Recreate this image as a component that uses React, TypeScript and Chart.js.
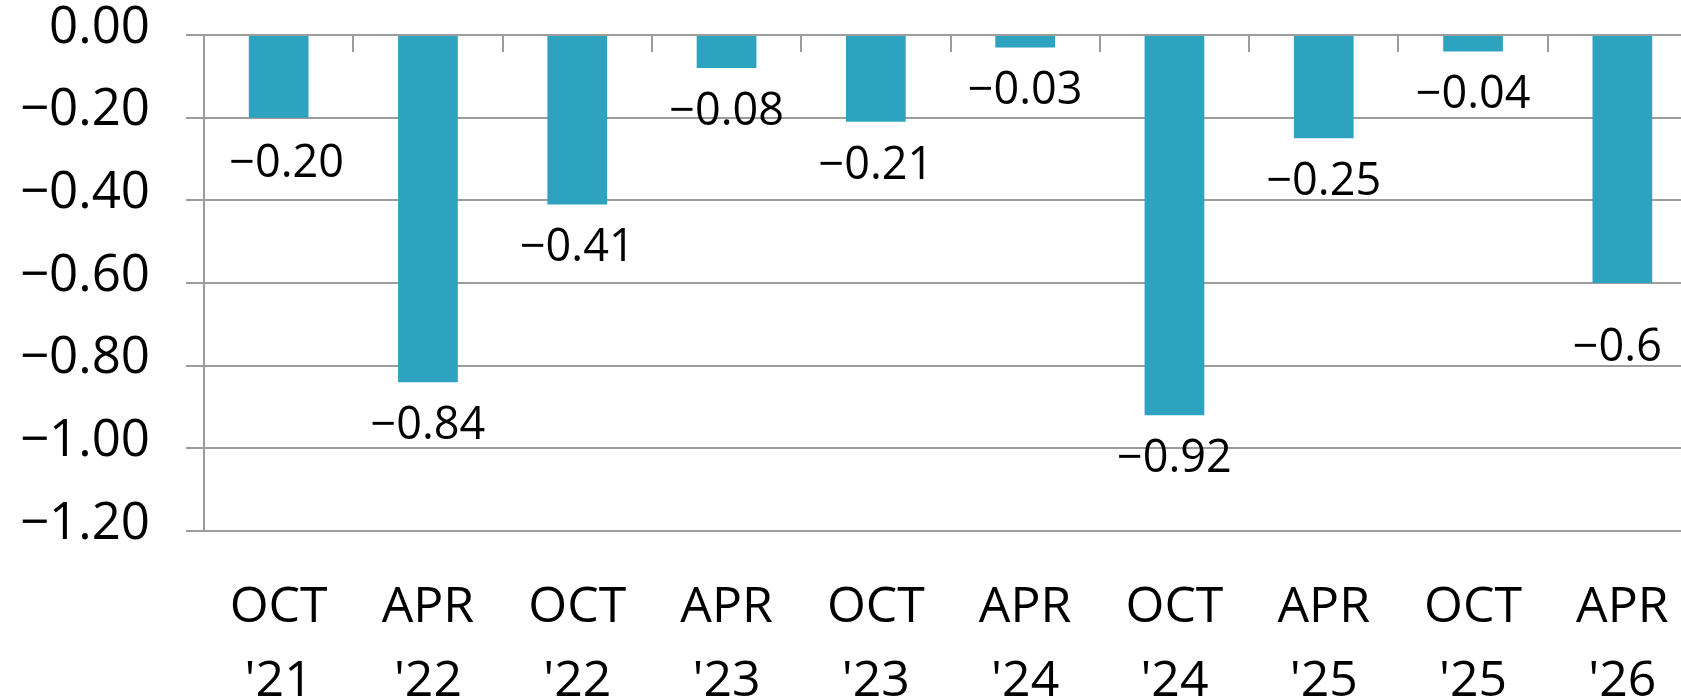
import React, { useEffect, useRef } from 'react';
import { Chart, registerables } from 'chart.js';

Chart.register(...registerables);

const months = ['OCT', 'APR', 'OCT', 'APR', 'OCT', 'APR', 'OCT', 'APR', 'OCT', 'APR'];
const years = ["'21", "'22", "'22", "'23", "'23", "'24", "'24", "'25", "'25", "'26"];
const values = [-0.2, -0.84, -0.41, -0.08, -0.21, -0.03, -0.92, -0.25, -0.04, -0.6];
const valueLabels = ['−0.20', '−0.84', '−0.41', '−0.08', '−0.21', '−0.03', '−0.92', '−0.25', '−0.04', '−0.6'];
const yMin = -1.2;
const yMax = 0;
const yStep = 0.2;

const FONT = '"Open Sans", "DejaVu Sans", sans-serif';
const GRID = '#9c9c9c';
const BAR = '#2ea3bf';

const zeroTickPlugin = {
  id: 'zeroTicks',
  afterDatasetsDraw(chart: any, _args: any, opts: any) {
    const xs = chart.scales.x;
    const ys = chart.scales.y;
    const y0 = ys.getPixelForValue(0);
    const n = xs.ticks.length;
    const ctx = chart.ctx;
    const half = (xs.getPixelForValue(1) - xs.getPixelForValue(0)) / 2;
    ctx.save();
    ctx.strokeStyle = opts.color;
    ctx.lineWidth = opts.width;
    ctx.beginPath();
    for (let i = 0; i <= n; i++) {
      const px = Math.round(xs.getPixelForValue(0) - half + i * half * 2);
      ctx.moveTo(px, y0);
      ctx.lineTo(px, y0 + opts.length);
    }
    ctx.stroke();
    ctx.restore();
  },
};

const valueLabelPlugin = {
  id: 'valueLabels',
  afterDatasetsDraw(chart: any, _args: any, opts: any) {
    const meta = chart.getDatasetMeta(0);
    const ctx = chart.ctx;
    ctx.save();
    ctx.font = `${opts.size}px ${FONT}`;
    ctx.fillStyle = opts.color;
    ctx.textAlign = 'center';
    ctx.textBaseline = 'middle';
    meta.data.forEach((bar: any, i: number) => {
      const gap = opts.gaps && opts.gaps[i] != null ? opts.gaps[i] : opts.gap;
      const dx = opts.shifts && opts.shifts[i] != null ? opts.shifts[i] : 0;
      ctx.fillText(valueLabels[i], bar.x + dx, bar.y + gap);
    });
    ctx.restore();
  },
};

export default function App() {
  const ref = useRef<HTMLCanvasElement | null>(null);

  useEffect(() => {
    if (!ref.current) return;
    const chart = new Chart(ref.current, {
      type: 'bar',
      data: {
        labels: months.map((m, i) => [m, years[i]]),
        datasets: [
          {
            data: values,
            backgroundColor: BAR,
            borderWidth: 0,
            barPercentage: 0.4,
            categoryPercentage: 1,
          },
        ],
      },
      options: {
        responsive: false,
        animation: false,
        devicePixelRatio: 1,
        layout: { padding: { left: 0, top: 35, right: 63, bottom: 0 } },
        plugins: {
          legend: { display: false },
          tooltip: { enabled: false },
          zeroTicks: { color: GRID, width: 2, length: 17 },
          valueLabels: {
            size: 45,
            color: '#000',
            gap: 44,
            gaps: { 0: 47, 9: 65 },
            shifts: { 0: 8, 9: -5 },
          },
        } as any,
        scales: {
          x: {
            grid: { display: false },
            border: { display: false },
            ticks: {
              color: '#000',
              padding: 32,
              maxRotation: 0,
              autoSkip: false,
              font: { family: FONT, size: 50, lineHeight: '74px' },
            },
            afterFit(scale: any) {
              scale.height = 166;
            },
          },
          y: {
            min: yMin,
            max: yMax,
            grid: { color: GRID, lineWidth: 2, tickLength: 18, tickColor: GRID },
            border: { display: true, color: GRID, width: 2 },
            ticks: {
              stepSize: yStep,
              color: '#000',
              padding: 36,
              font: { family: FONT, size: 51, lineHeight: '14px' },
              callback: (v: any) => [Number(v).toFixed(2).replace('-', '−'), ''],
            },
            afterFit(scale: any) {
              scale.width = 204;
              scale.paddingTop = 0;
              scale.paddingBottom = 0;
            },
          },
        },
      },
      plugins: [zeroTickPlugin, valueLabelPlugin],
    });
    return () => chart.destroy();
  }, []);

  return (
    <div
      style={{
        position: 'fixed',
        left: 0,
        top: 0,
        width: 1681,
        height: 697,
        overflow: 'hidden',
        background: '#fff',
      }}
    >
      <canvas ref={ref} width={1760} height={697} style={{ display: 'block' }} />
    </div>
  );
}
